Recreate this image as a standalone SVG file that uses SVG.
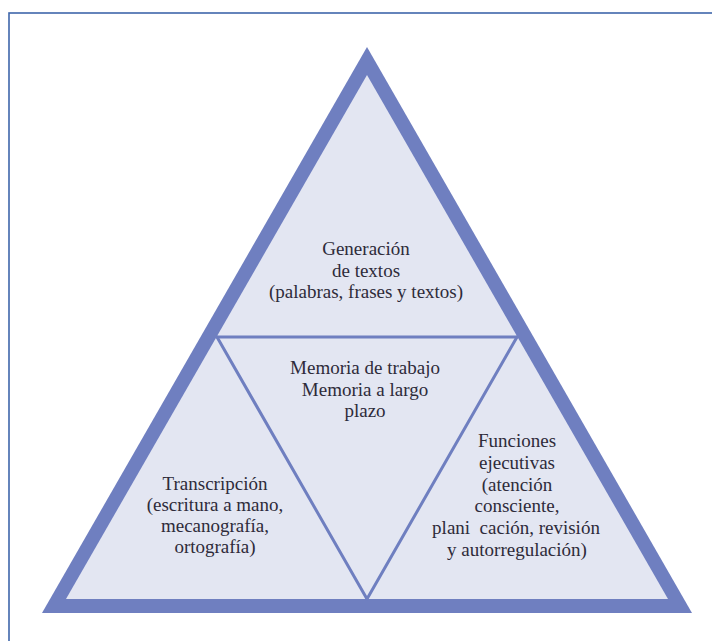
<svg xmlns="http://www.w3.org/2000/svg" width="712" height="641" viewBox="0 0 712 641">
  <style>
    .band { fill: #6f7fc0; }
    .inner { fill: #e3e6f2; }
    .conn { stroke: #6f7fc0; stroke-width: 3; fill: none; stroke-linecap: round; }
    .lbl { font-family: "Liberation Serif", "Times New Roman", serif; font-size: 19px; fill: #2e2b3a; text-anchor: middle; }
    .frame { fill: #ffffff; stroke: #3f66ab; stroke-width: 1.6; }
  </style>
  <rect x="0" y="0" width="712" height="641" fill="#ffffff"/>
  <rect class="frame" x="9" y="13" width="720" height="700"/>
  <g id="pyramid">
    <polygon class="band" points="367,47 42,613 692,613"/>
    <polygon class="inner" points="367,75 66,599 668,599"/>
  </g>
  <g id="connectors">
    <line class="conn" x1="217" y1="337" x2="517" y2="337"/>
    <line class="conn" x1="217" y1="337" x2="367" y2="599"/>
    <line class="conn" x1="517" y1="337" x2="367" y2="599"/>
  </g>
  <g id="generacion">
    <text class="lbl" x="366" y="255">Generación</text>
    <text class="lbl" x="366" y="277">de textos</text>
    <text class="lbl" x="366" y="298">(palabras, frases y textos)</text>
  </g>
  <g id="memoria">
    <text class="lbl" x="365" y="374">Memoria de trabajo</text>
    <text class="lbl" x="365" y="396">Memoria a largo</text>
    <text class="lbl" x="365" y="417">plazo</text>
  </g>
  <g id="transcripcion">
    <text class="lbl" x="215" y="490">Transcripción</text>
    <text class="lbl" x="215" y="511">(escritura a mano,</text>
    <text class="lbl" x="215" y="532">mecanografía,</text>
    <text class="lbl" x="215" y="553">ortografía)</text>
  </g>
  <g id="funciones">
    <text class="lbl" x="517" y="447">Funciones</text>
    <text class="lbl" x="517" y="469">ejecutivas</text>
    <text class="lbl" x="517" y="491">(atención</text>
    <text class="lbl" x="517" y="512">consciente,</text>
    <text class="lbl" x="516" y="534">plani&#160; cación, revisión</text>
    <text class="lbl" x="517" y="556">y autorregulación)</text>
  </g>
</svg>
